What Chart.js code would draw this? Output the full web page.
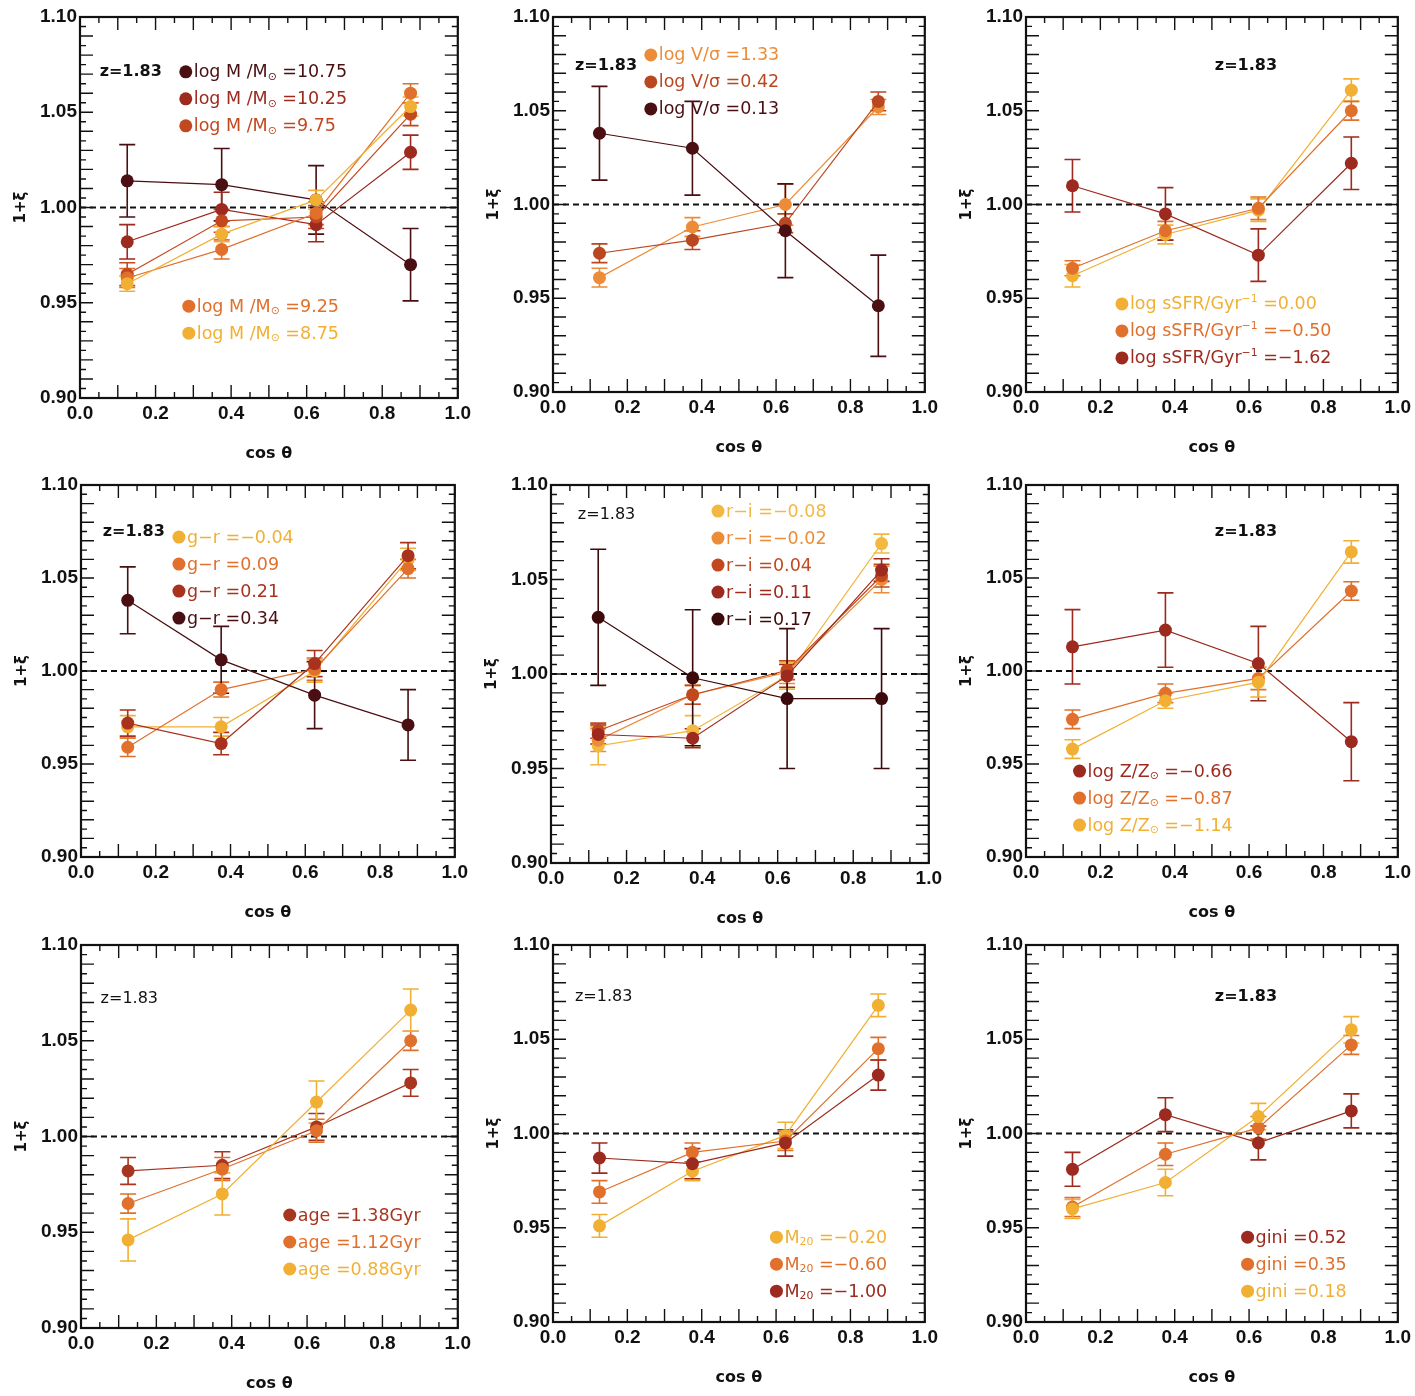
<!DOCTYPE html>
<html>
<head>
<meta charset="utf-8">
<script src="https://cdn.jsdelivr.net/npm/chart.js@4.4.1/dist/chart.umd.min.js"></script>
<style>
  body { margin: 0; background: #fff; }
  #wrap { position: relative; width: 1415px; height: 1396px; background: #fff; overflow: hidden; }
  #wrap canvas { position: absolute; }
</style>
</head>
<body>
<div id="wrap"></div>
<script>
// bin centres in cos(theta)
const cosTheta = [0.125, 0.375, 0.625, 0.875];
const refLevel = 1.0;
const redshiftLabel = "z=1.83";

// stellar mass
const massLabels = ["log M /M_{⊙} =10.75", "log M /M_{⊙} =10.25", "log M /M_{⊙} =9.75", "log M /M_{⊙} =9.25", "log M /M_{⊙} =8.75"];
const massValues = [
  [1.014, 1.012, 1.004, 0.970],
  [0.982, 0.999, 0.991, 1.029],
  [0.965, 0.993, 0.995, 1.049],
  [0.963, 0.978, 0.997, 1.060],
  [0.960, 0.986, 1.004, 1.053],
];
const massErrors = [
  [0.019, 0.019, 0.018, 0.019],
  [0.009, 0.009, 0.009, 0.009],
  [0.006, 0.006, 0.006, 0.006],
  [0.005, 0.005, 0.006, 0.005],
  [0.004, 0.004, 0.005, 0.005],
];

// V/sigma
const vsigLabels = ["log V/σ =1.33", "log V/σ =0.42", "log V/σ =0.13"];
const vsigValues = [
  [0.961, 0.988, 1.000, 1.052],
  [0.974, 0.981, 0.990, 1.055],
  [1.038, 1.030, 0.986, 0.946],
];
const vsigErrors = [
  [0.005, 0.005, 0.011, 0.004],
  [0.005, 0.005, 0.005, 0.005],
  [0.025, 0.025, 0.025, 0.027],
];

// sSFR
const ssfrLabels = ["log sSFR/Gyr^{−1} =0.00", "log sSFR/Gyr^{−1} =−0.50", "log sSFR/Gyr^{−1} =−1.62"];
const ssfrValues = [
  [0.962, 0.984, 0.997, 1.061],
  [0.966, 0.986, 0.998, 1.050],
  [1.010, 0.995, 0.973, 1.022],
];
const ssfrErrors = [
  [0.006, 0.005, 0.006, 0.006],
  [0.004, 0.005, 0.006, 0.005],
  [0.014, 0.014, 0.014, 0.014],
];

// g-r colour
const grLabels = ["g−r =−0.04", "g−r =0.09", "g−r =0.21", "g−r =0.34"];
const grValues = [
  [0.970, 0.970, 1.000, 1.060],
  [0.959, 0.990, 1.001, 1.055],
  [0.972, 0.961, 1.004, 1.062],
  [1.038, 1.006, 0.987, 0.971],
];
const grErrors = [
  [0.006, 0.005, 0.006, 0.006],
  [0.005, 0.004, 0.006, 0.005],
  [0.007, 0.006, 0.007, 0.007],
  [0.018, 0.018, 0.018, 0.019],
];

// r-i colour
const riLabels = ["r−i =−0.08", "r−i =−0.02", "r−i =0.04", "r−i =0.11", "r−i =0.17"];
const riValues = [
  [0.962, 0.970, 0.999, 1.069],
  [0.965, 0.989, 1.001, 1.050],
  [0.970, 0.989, 1.002, 1.052],
  [0.968, 0.966, 0.999, 1.055],
  [1.030, 0.998, 0.987, 0.987],
];
const riErrors = [
  [0.010, 0.008, 0.007, 0.005],
  [0.006, 0.005, 0.006, 0.007],
  [0.004, 0.005, 0.005, 0.006],
  [0.005, 0.005, 0.006, 0.006],
  [0.036, 0.036, 0.037, 0.037],
];

// metallicity
const metalLabels = ["log Z/Z_{⊙} =−0.66", "log Z/Z_{⊙} =−0.87", "log Z/Z_{⊙} =−1.14"];
const metalValues = [
  [1.013, 1.022, 1.004, 0.962],
  [0.974, 0.988, 0.996, 1.043],
  [0.958, 0.984, 0.994, 1.064],
];
const metalErrors = [
  [0.020, 0.020, 0.020, 0.021],
  [0.005, 0.005, 0.006, 0.005],
  [0.005, 0.004, 0.008, 0.006],
];

// stellar age
const ageLabels = ["age =1.38Gyr", "age =1.12Gyr", "age =0.88Gyr"];
const ageValues = [
  [0.982, 0.985, 1.005, 1.028],
  [0.965, 0.983, 1.003, 1.050],
  [0.946, 0.970, 1.018, 1.066],
];
const ageErrors = [
  [0.007, 0.007, 0.007, 0.007],
  [0.005, 0.006, 0.006, 0.005],
  [0.011, 0.011, 0.011, 0.011],
];

// M20
const m20Labels = ["M_{20} =−0.20", "M_{20} =−0.60", "M_{20} =−1.00"];
const m20Values = [
  [0.951, 0.980, 0.999, 1.068],
  [0.969, 0.990, 0.996, 1.045],
  [0.987, 0.984, 0.995, 1.031],
];
const m20Errors = [
  [0.006, 0.005, 0.007, 0.006],
  [0.006, 0.005, 0.005, 0.006],
  [0.008, 0.008, 0.007, 0.008],
];

// gini
const giniLabels = ["gini =0.52", "gini =0.35", "gini =0.18"];
const giniValues = [
  [0.981, 1.010, 0.995, 1.012],
  [0.961, 0.989, 1.003, 1.047],
  [0.960, 0.974, 1.009, 1.055],
];
const giniErrors = [
  [0.009, 0.009, 0.009, 0.009],
  [0.005, 0.006, 0.006, 0.005],
  [0.005, 0.007, 0.007, 0.007],
];

// colours (dark -> yellow)
const MAROON = "#4a0f12";
const DKRED = "#9c2a1e";
const RED = "#c2491f";
const ORANGE = "#e0702c";
const LTORANGE = "#ec8c38";
const YELLOW = "#f1b034";

const FONT = "'Liberation Sans', Arial, sans-serif";
const LFONT = "'DejaVu Sans', sans-serif";

// layout of each panel: plot area in page pixels, label positions as fractions of the plot area
const panels = [
  { labels: massLabels, values: massValues, errors: massErrors,
    colors: [MAROON, DKRED, RED, ORANGE, YELLOW],
    rect: [80, 17, 462, 398], z: { fx: 0.052, fy: 0.144, bold: true },
    legend: [{ fx: 0.28, fy: 0.144, items: [0, 1, 2] }, { fx: 0.288, fy: 0.759, items: [3, 4] }] },
  { labels: vsigLabels, values: vsigValues, errors: vsigErrors,
    colors: [LTORANGE, "#b9471f", MAROON],
    rect: [553, 17, 929, 392], z: { fx: 0.059, fy: 0.131, bold: true },
    legend: [{ fx: 0.263, fy: 0.101, items: [0, 1, 2] }] },
  { labels: ssfrLabels, values: ssfrValues, errors: ssfrErrors,
    colors: [YELLOW, ORANGE, DKRED],
    rect: [1026, 17, 1402, 392], z: { fx: 0.508, fy: 0.131, bold: true },
    legend: [{ fx: 0.258, fy: 0.765, items: [0, 1, 2] }] },
  { labels: grLabels, values: grValues, errors: grErrors,
    colors: [YELLOW, ORANGE, "#a8321e", MAROON],
    rect: [81, 485, 459, 857], z: { fx: 0.058, fy: 0.126, bold: true },
    legend: [{ fx: 0.262, fy: 0.140, items: [0, 1, 2, 3] }] },
  { labels: riLabels, values: riValues, errors: riErrors,
    colors: ["#f2b840", LTORANGE, RED, DKRED, "#3d0a0c"],
    rect: [551, 485, 933, 863], z: { fx: 0.071, fy: 0.079, bold: false },
    legend: [{ fx: 0.442, fy: 0.069, items: [0, 1, 2, 3, 4] }] },
  { labels: metalLabels, values: metalValues, errors: metalErrors,
    colors: [DKRED, ORANGE, YELLOW],
    rect: [1026, 485, 1402, 857], z: { fx: 0.508, fy: 0.126, bold: true },
    legend: [{ fx: 0.144, fy: 0.769, items: [0, 1, 2] }] },
  { labels: ageLabels, values: ageValues, errors: ageErrors,
    colors: ["#a8351f", ORANGE, YELLOW],
    rect: [81, 945, 462, 1328], z: { fx: 0.052, fy: 0.141, bold: false },
    legend: [{ fx: 0.554, fy: 0.705, items: [0, 1, 2] }] },
  { labels: m20Labels, values: m20Values, errors: m20Errors,
    colors: [YELLOW, ORANGE, DKRED],
    rect: [553, 945, 929, 1322], z: { fx: 0.059, fy: 0.138, bold: false },
    legend: [{ fx: 0.601, fy: 0.775, items: [0, 1, 2] }] },
  { labels: giniLabels, values: giniValues, errors: giniErrors,
    colors: [DKRED, ORANGE, YELLOW],
    rect: [1026, 945, 1402, 1322], z: { fx: 0.508, fy: 0.138, bold: true },
    legend: [{ fx: 0.596, fy: 0.775, items: [0, 1, 2] }] },
];

// draw text with _{sub} and ^{sup} parts
function drawRich(ctx, str, x, y, size, color) {
  const parts = str.split(/(_\{[^}]*\}|\^\{[^}]*\})/).filter((p) => p.length);
  ctx.fillStyle = color;
  ctx.textBaseline = "middle";
  ctx.textAlign = "left";
  parts.forEach((p) => {
    let txt = p, s = size, dy = 0;
    if (p.startsWith("_{")) { txt = p.slice(2, -1); s = size * 0.62; dy = size * 0.25; }
    else if (p.startsWith("^{")) { txt = p.slice(2, -1); s = size * 0.62; dy = -size * 0.33; }
    ctx.font = s + "px " + LFONT;
    ctx.fillText(txt, x, y + dy);
    x += ctx.measureText(txt).width;
  });
}

const errorBars = {
  id: "errorBars",
  beforeDatasetsDraw(chart) {
    const { ctx, scales: { x, y } } = chart;
    ctx.save();
    chart.data.datasets.forEach((ds) => {
      if (!ds.errors) return;
      ctx.strokeStyle = ds.borderColor;
      ctx.lineWidth = 1.6;
      ds.data.forEach((pt, i) => {
        const px = x.getPixelForValue(pt.x);
        const top = y.getPixelForValue(pt.y + ds.errors[i]);
        const bot = y.getPixelForValue(pt.y - ds.errors[i]);
        ctx.beginPath();
        ctx.moveTo(px, top); ctx.lineTo(px, bot);
        ctx.moveTo(px - 8, top); ctx.lineTo(px + 8, top);
        ctx.moveTo(px - 8, bot); ctx.lineTo(px + 8, bot);
        ctx.stroke();
      });
    });
    ctx.restore();
  },
};

// box with inward ticks on all four sides
const frameTicks = {
  id: "frameTicks",
  afterDraw(chart) {
    const { ctx, chartArea: a, scales: { x, y } } = chart;
    ctx.save();
    ctx.strokeStyle = "#111";
    ctx.lineWidth = 1.4;
    ctx.beginPath();
    for (let i = 0; i <= 20; i++) {
      const px = x.getPixelForValue(i * 0.05);
      const len = i % 2 === 0 ? 13 : 6;
      ctx.moveTo(px, a.bottom); ctx.lineTo(px, a.bottom - len);
      ctx.moveTo(px, a.top); ctx.lineTo(px, a.top + len);
    }
    for (let i = 0; i <= 40; i++) {
      const py = y.getPixelForValue(0.9 + i * 0.005);
      const len = i % 2 === 0 ? 13 : 6;
      ctx.moveTo(a.left, py); ctx.lineTo(a.left + len, py);
      ctx.moveTo(a.right, py); ctx.lineTo(a.right - len, py);
    }
    ctx.stroke();
    ctx.lineWidth = 2.2;
    ctx.strokeRect(a.left, a.top, a.right - a.left, a.bottom - a.top);
    ctx.restore();
  },
};

const panelText = {
  id: "panelText",
  afterDraw(chart) {
    const { ctx, chartArea: a } = chart;
    const p = chart.options.plugins.panelText;
    const w = a.right - a.left, h = a.bottom - a.top;
    ctx.save();
    ctx.fillStyle = "#111";
    ctx.textBaseline = "middle";
    ctx.font = (p.z.bold ? "bold " : "") + "16px " + LFONT;
    ctx.fillText(redshiftLabel, a.left + p.z.fx * w, a.top + p.z.fy * h);
    p.legend.forEach((g) => {
      g.items.forEach((idx, k) => {
        const cx = a.left + g.fx * w;
        const cy = a.top + g.fy * h + k * 27;
        ctx.fillStyle = p.colors[idx];
        ctx.beginPath();
        ctx.arc(cx, cy, 6.5, 0, Math.PI * 2);
        ctx.fill();
        drawRich(ctx, p.labels[idx], cx + 8, cy + 1, 17.5, p.colors[idx]);
      });
    });
    ctx.restore();
  },
};

const wrap = document.getElementById("wrap");

panels.forEach((p) => {
  const [L, T, R, B] = p.rect;
  const canvas = document.createElement("canvas");
  const cw = R - L + 80 + 13;
  const ch = B - T + 17 + 75;
  canvas.width = cw;
  canvas.height = ch;
  canvas.style.left = (L - 80) + "px";
  canvas.style.top = (T - 17) + "px";
  canvas.style.width = cw + "px";
  canvas.style.height = ch + "px";
  wrap.appendChild(canvas);

  const datasets = p.values.map((vals, s) => ({
    data: cosTheta.map((c, i) => ({ x: c, y: vals[i] })),
    errors: p.errors[s],
    borderColor: p.colors[s],
    backgroundColor: p.colors[s],
    borderWidth: 1.2,
    pointRadius: 6.5,
    pointBorderWidth: 0,
    order: p.values.length - s,
  }));
  datasets.push({
    data: [{ x: 0, y: refLevel }, { x: 1, y: refLevel }],
    borderColor: "#111",
    borderWidth: 2,
    borderDash: [6, 4],
    pointRadius: 0,
    order: 99,
  });

  new Chart(canvas, {
    type: "line",
    data: { datasets },
    options: {
      responsive: false,
      animation: false,
      devicePixelRatio: 1,
      layout: { padding: { top: 17, right: 13, left: 0, bottom: 0 } },
      plugins: {
        legend: { display: false },
        tooltip: { enabled: false },
        panelText: { z: p.z, legend: p.legend, labels: p.labels, colors: p.colors },
      },
      scales: {
        x: {
          type: "linear",
          min: 0,
          max: 1,
          grid: { display: false, drawTicks: false },
          border: { display: false },
          ticks: {
            stepSize: 0.2,
            autoSkip: false,
            maxRotation: 0,
            padding: 4,
            color: "#111",
            font: { family: FONT, size: 19, weight: "bold" },
            callback: (v) => v.toFixed(1),
          },
          title: {
            display: true,
            text: "cos θ",
            color: "#111",
            font: { family: LFONT, size: 16, weight: "bold" },
            padding: { top: 0, bottom: 10 },
          },
          afterFit: (s) => { s.height = 75; },
        },
        y: {
          min: 0.9,
          max: 1.1,
          grid: { display: false, drawTicks: false },
          border: { display: false },
          ticks: {
            stepSize: 0.05,
            padding: 3,
            color: "#111",
            font: { family: FONT, size: 19, weight: "bold" },
            callback: (v) => v.toFixed(2),
          },
          title: {
            display: true,
            text: "1+ξ",
            color: "#111",
            font: { family: LFONT, size: 15, weight: "bold" },
            padding: { top: 12, bottom: 0 },
          },
          afterFit: (s) => { s.width = 80; },
        },
      },
    },
    plugins: [errorBars, frameTicks, panelText],
  });
});
</script>
</body>
</html>
